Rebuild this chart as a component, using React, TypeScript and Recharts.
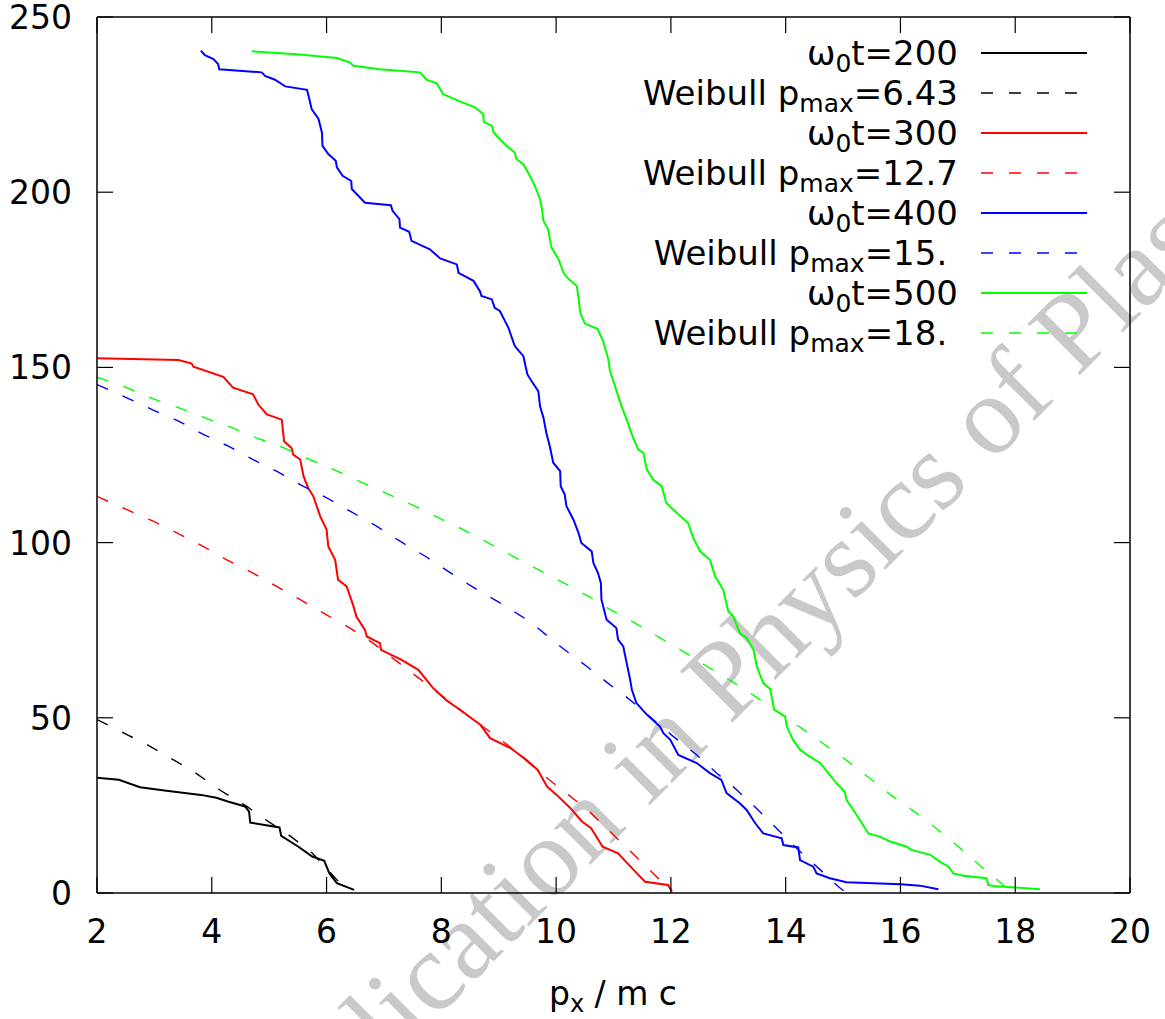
import React from 'react';
import { LineChart, Line, XAxis, YAxis } from 'recharts';

document.body.style.margin = '0';

// cumulative counts: [p_x, N]
const t200: [number, number][] = [
  [2.0, 32.9], [2.38, 32.3], [2.75, 30.2], [3.21, 29.2], [3.81, 28.0], [4.08, 27.2], [4.28, 26.1],
  [4.58, 24.7], [4.65, 23.2], [4.67, 20.1], [5.18, 18.7], [5.21, 16.3], [5.51, 13.2], [5.75, 10.4],
  [5.96, 9.2], [6.05, 5.6], [6.18, 2.8], [6.48, 0.9],
];
const fit643: [number, number][] = [
  [2.0, 49.5], [2.41, 46.1], [2.88, 42.3], [3.28, 38.5], [3.68, 34.7], [4.14, 29.4], [4.61, 24.7],
  [4.94, 20.9], [5.34, 16.6], [5.75, 11.4], [6.15, 4.3], [6.35, 0.8],
];
const t300: [number, number][] = [
  [2.0, 152.6], [3.42, 152.1], [3.65, 151.1], [3.68, 150.2], [4.2, 147.3], [4.37, 144.2], [4.72, 142.3],
  [4.81, 139.4], [4.96, 136.6], [5.22, 135.1], [5.26, 128.9], [5.39, 127.0], [5.42, 125.1], [5.54, 123.7],
  [5.6, 118.9], [5.68, 115.6], [5.77, 113.2], [5.89, 107.5], [6.0, 103.7], [6.03, 98.9], [6.15, 95.1],
  [6.2, 89.4], [6.35, 87.5], [6.47, 81.8], [6.52, 78.9], [6.67, 75.1], [6.7, 73.2], [6.93, 71.3],
  [6.95, 69.4], [7.3, 66.6], [7.6, 63.7], [7.85, 58.6], [8.08, 55.1], [8.28, 52.8], [8.68, 48.0],
  [8.85, 44.2], [9.21, 41.3], [9.48, 38.0], [9.68, 35.1], [9.84, 30.4], [10.01, 28.0], [10.25, 24.2],
  [10.45, 20.4], [10.61, 18.5], [10.81, 13.2], [11.08, 11.3], [11.35, 6.6], [11.55, 3.2], [11.95, 2.3],
  [12.02, 0.4],
];
const fit127: [number, number][] = [
  [2.0, 113.2], [2.52, 109.4], [2.98, 106.1], [3.39, 102.8], [3.85, 98.9], [4.26, 95.1], [4.72, 91.3],
  [5.13, 87.5], [5.54, 83.7], [6.0, 79.4], [6.41, 75.6], [6.81, 71.3], [8.41, 51.3], [9.15, 42.3],
  [9.88, 32.3], [10.55, 23.7], [11.15, 14.2], [11.81, 3.7], [12.0, 0.6],
];
const t400: [number, number][] = [
  [3.81, 240.4], [3.88, 239.1], [4.03, 238.0], [4.11, 236.6], [4.13, 235.1], [4.87, 234.2], [4.93, 233.2],
  [5.1, 232.1], [5.28, 230.2], [5.66, 229.2], [5.7, 226.6], [5.74, 223.7], [5.86, 220.9], [5.92, 217.0],
  [5.93, 213.2], [6.03, 210.9], [6.16, 209.0], [6.18, 207.1], [6.28, 204.7], [6.43, 203.2], [6.44, 200.9],
  [6.67, 197.0], [7.12, 196.3], [7.15, 194.7], [7.27, 192.3], [7.28, 189.9], [7.44, 188.7], [7.48, 186.1],
  [7.8, 183.7], [7.98, 181.1], [8.27, 179.4], [8.3, 177.0], [8.56, 174.7], [8.67, 171.8], [8.7, 170.4],
  [8.88, 169.4], [8.93, 167.0], [9.02, 166.1], [9.11, 163.2], [9.17, 161.3], [9.22, 158.9], [9.28, 156.1],
  [9.43, 153.2], [9.46, 150.9], [9.5, 148.0], [9.57, 146.1], [9.69, 143.2], [9.72, 138.9], [9.78, 135.6],
  [9.83, 131.3], [9.89, 127.5], [9.95, 122.8], [10.07, 120.4], [10.08, 116.1], [10.15, 113.7], [10.18, 110.4],
  [10.3, 106.6], [10.39, 102.8], [10.44, 99.9], [10.62, 97.5], [10.65, 94.2], [10.73, 91.3], [10.78, 88.5],
  [10.79, 83.7], [10.88, 78.0], [11.05, 75.6], [11.08, 72.3], [11.17, 70.4], [11.23, 65.6], [11.29, 60.9],
  [11.32, 58.0], [11.4, 54.2], [11.58, 50.9], [11.81, 47.5], [11.87, 45.6], [11.99, 43.7], [12.13, 39.4],
  [12.45, 37.1], [12.68, 34.2], [12.88, 32.3], [12.97, 28.5], [13.2, 25.6], [13.32, 23.7], [13.47, 19.9],
  [13.61, 17.0], [13.93, 15.6], [13.96, 13.7], [14.22, 13.0], [14.25, 9.4], [14.48, 7.5], [14.54, 5.6],
  [14.77, 4.2], [15.06, 3.1], [16.0, 2.5], [16.34, 2.1], [16.66, 1.1],
];
const fit15: [number, number][] = [
  [2.0, 145.1], [2.52, 141.3], [2.98, 137.8], [3.42, 134.7], [3.85, 130.9], [4.29, 127.5], [4.72, 123.7],
  [5.16, 120.1], [5.59, 116.1], [6.0, 112.8], [6.44, 108.7], [6.87, 104.7], [7.28, 100.4], [7.72, 96.1],
  [8.12, 91.8], [8.53, 87.5], [9.0, 83.0], [9.54, 77.5], [10.07, 70.4], [10.53, 64.7], [10.94, 59.4],
  [11.29, 55.1], [12.04, 44.7], [12.45, 39.4], [12.8, 34.2], [13.15, 29.4], [13.52, 23.7], [13.87, 18.0],
  [14.22, 12.3], [14.57, 7.1], [14.92, 1.8], [15.03, 0.4],
];
const t500: [number, number][] = [
  [4.7, 240.2], [5.48, 239.4], [6.18, 238.3], [6.41, 237.0], [6.47, 236.1], [6.93, 235.1], [7.63, 234.2],
  [7.74, 232.1], [7.92, 231.1], [8.03, 228.0], [8.32, 225.9], [8.59, 224.2], [8.73, 222.3], [8.74, 220.1],
  [8.88, 218.9], [8.91, 217.1], [9.02, 215.1], [9.14, 213.2], [9.28, 211.3], [9.31, 209.4], [9.43, 208.0],
  [9.54, 204.7], [9.63, 201.8], [9.72, 198.0], [9.75, 195.5], [9.78, 191.8], [9.86, 189.4], [9.92, 184.2],
  [10.04, 180.9], [10.13, 177.0], [10.2, 175.5], [10.36, 173.2], [10.39, 169.9], [10.42, 165.6], [10.5, 162.5],
  [10.72, 161.0], [10.82, 157.5], [10.91, 152.3], [10.94, 148.9], [11.02, 145.0], [11.14, 138.9], [11.23, 135.1],
  [11.34, 130.0], [11.43, 126.6], [11.52, 125.6], [11.58, 120.9], [11.69, 118.0], [11.84, 116.1], [11.92, 111.3],
  [12.1, 108.5], [12.3, 105.6], [12.39, 101.3], [12.51, 97.5], [12.68, 95.1], [12.77, 90.4], [12.91, 86.6],
  [13.0, 80.4], [13.09, 78.9], [13.2, 74.2], [13.32, 72.8], [13.44, 69.4], [13.5, 64.5], [13.61, 59.9],
  [13.73, 58.2], [13.8, 52.3], [13.99, 50.4], [14.02, 47.5], [14.13, 43.7], [14.25, 40.9], [14.42, 38.9],
  [14.6, 37.1], [14.74, 34.2], [14.89, 31.3], [15.03, 28.9], [15.06, 26.6], [15.18, 23.7], [15.29, 20.9],
  [15.44, 17.0], [15.64, 16.1], [15.82, 14.7], [16.11, 13.2], [16.19, 12.3], [16.52, 10.9], [16.69, 8.9],
  [16.84, 7.5], [16.92, 5.6], [17.1, 4.9], [17.5, 4.2], [17.53, 2.3], [17.62, 2.0], [18.43, 1.1],
];
const fit18: [number, number][] = [
  [2.0, 147.2], [2.52, 144.2], [2.98, 141.0], [3.42, 138.5], [3.88, 135.6], [4.35, 132.8], [4.78, 129.9],
  [5.25, 127.1], [5.71, 123.7], [6.15, 120.7], [6.61, 117.2], [7.05, 114.0], [7.51, 110.6], [7.95, 107.1],
  [8.38, 103.7], [8.82, 99.9], [9.25, 96.1], [9.69, 92.3], [10.13, 88.5], [10.56, 84.7], [10.94, 80.9],
  [11.37, 77.1], [11.81, 72.8], [12.22, 68.9], [12.65, 64.5], [13.06, 60.4], [13.47, 56.1], [14.28, 47.0],
  [14.68, 42.3], [15.09, 37.5], [15.5, 32.3], [15.87, 27.5], [16.28, 22.8], [16.66, 18.0], [17.04, 12.8],
  [17.41, 7.5], [17.79, 2.3], [17.88, 1.2],
];

const xTicks = [2, 4, 6, 8, 10, 12, 14, 16, 18, 20];
const yTicks = [0, 50, 100, 150, 200, 250];

// key order as in the figure: label = lead + subscript + tail
const series = [
  { key: 't200', pts: t200, color: '#000000', dashed: false, lead: 'ω', sub: '0', tail: 't=200' },
  { key: 'fit643', pts: fit643, color: '#000000', dashed: true, lead: 'Weibull p', sub: 'max', tail: '=6.43' },
  { key: 't300', pts: t300, color: '#ff0000', dashed: false, lead: 'ω', sub: '0', tail: 't=300' },
  { key: 'fit127', pts: fit127, color: '#ff0000', dashed: true, lead: 'Weibull p', sub: 'max', tail: '=12.7' },
  { key: 't400', pts: t400, color: '#0000ff', dashed: false, lead: 'ω', sub: '0', tail: 't=400' },
  { key: 'fit15', pts: fit15, color: '#0000ff', dashed: true, lead: 'Weibull p', sub: 'max', tail: '=15.\u00a0' },
  { key: 't500', pts: t500, color: '#00ff00', dashed: false, lead: 'ω', sub: '0', tail: 't=500' },
  { key: 'fit18', pts: fit18, color: '#00ff00', dashed: true, lead: 'Weibull p', sub: 'max', tail: '=18.\u00a0' },
];

const FONT = '"DejaVu Sans", sans-serif';
const DASH = '12 16';
const TICK = 16;

const BottomTick = ({ x, y, payload }: any) => (
  <g>
    <line x1={x} x2={x} y1={y} y2={y - TICK} stroke="#000" strokeWidth={1.2} />
    <text x={x} y={y + 50} textAnchor="middle" fontSize={33} fontFamily={FONT} fill="#000">
      {payload.value}
    </text>
  </g>
);
const TopTick = ({ x, y }: any) => (
  <line x1={x} x2={x} y1={y} y2={y + TICK} stroke="#000" strokeWidth={1.2} />
);
const LeftTick = ({ x, y, payload }: any) => (
  <g>
    <line x1={x} x2={x + TICK} y1={y} y2={y} stroke="#000" strokeWidth={1.2} />
    <text x={x - 25} y={y + 12} textAnchor="end" fontSize={33} fontFamily={FONT} fill="#000">
      {payload.value}
    </text>
  </g>
);
const RightTick = ({ x, y }: any) => (
  <line x1={x} x2={x - TICK} y1={y} y2={y} stroke="#000" strokeWidth={1.2} />
);

export default function App() {
  return (
    <div style={{ position: 'relative', width: 1165, height: 1019, background: '#fff', overflow: 'hidden' }}>
      {/* watermark */}
      <svg width={1165} height={1019} style={{ position: 'absolute', left: 0, top: 0 }}>
        <g transform="translate(648 807) rotate(-45)" fontFamily='"Liberation Serif", serif' fontSize={112} fill="#c9c9c9">
          <text x={-28} y={0} textAnchor="end">Accepted for publication</text>
          <text x={0} y={0}>in Physics of Plasmas</text>
        </g>
      </svg>

      <div style={{ position: 'absolute', left: 0, top: 0 }}>
        <LineChart width={1165} height={1019} margin={{ top: 16, right: 34, bottom: 0, left: 0 }}>
          <XAxis
            xAxisId="b"
            type="number"
            dataKey="x"
            domain={[2, 20]}
            ticks={xTicks}
            allowDataOverflow
            height={126}
            tickSize={0}
            tickMargin={0}
            tickLine={false}
            axisLine={{ stroke: '#000', strokeWidth: 1.5 }}
            tick={<BottomTick />}
            interval={0}
          />
          <XAxis
            xAxisId="t"
            orientation="top"
            type="number"
            dataKey="x"
            domain={[2, 20]}
            ticks={xTicks}
            allowDataOverflow
            height={1}
            tickSize={0}
            tickMargin={0}
            tickLine={false}
            axisLine={{ stroke: '#000', strokeWidth: 1.5 }}
            tick={<TopTick />}
            interval={0}
          />
          <YAxis
            yAxisId="l"
            type="number"
            domain={[0, 250]}
            ticks={yTicks}
            allowDataOverflow
            width={97}
            tickSize={0}
            tickMargin={0}
            tickLine={false}
            axisLine={{ stroke: '#000', strokeWidth: 1.5 }}
            tick={<LeftTick />}
            interval={0}
          />
          <YAxis
            yAxisId="r"
            orientation="right"
            type="number"
            domain={[0, 250]}
            ticks={yTicks}
            allowDataOverflow
            width={1}
            tickSize={0}
            tickMargin={0}
            tickLine={false}
            axisLine={{ stroke: '#000', strokeWidth: 1.5 }}
            tick={<RightTick />}
            interval={0}
          />
          {series.map((s) => (
            <Line
              key={s.key}
              xAxisId="b"
              yAxisId="l"
              data={s.pts.map(([x, y]) => ({ x, y }))}
              dataKey="y"
              type="linear"
              stroke={s.color}
              strokeWidth={s.dashed ? 1.4 : 2}
              strokeDasharray={s.dashed ? DASH : undefined}
              dot={false}
              activeDot={false}
              isAnimationActive={false}
            />
          ))}
        </LineChart>
      </div>

      {/* key, gnuplot style */}
      <svg width={1165} height={1019} style={{ position: 'absolute', left: 0, top: 0, pointerEvents: 'none' }}>
        <g fontFamily={FONT} fontSize={34} fill="#000">
          {series.map((s, i) => {
            const cy = 53 + i * 40;
            return (
              <g key={s.key}>
                <text x={958} y={cy + 12} textAnchor="end" style={{ whiteSpace: 'pre' }}>
                  {s.lead}
                  <tspan fontSize={25} dy={7}>{s.sub}</tspan>
                  <tspan dy={-7}>{s.tail}</tspan>
                </text>
                <line
                  x1={981}
                  x2={1087}
                  y1={cy}
                  y2={cy}
                  stroke={s.color}
                  strokeWidth={s.dashed ? 1.4 : 2}
                  strokeDasharray={s.dashed ? DASH : undefined}
                />
              </g>
            );
          })}
        </g>
        <text x={613} y={1005} textAnchor="middle" fontFamily={FONT} fontSize={33} fill="#000">
          p<tspan fontSize={24} dy={7}>x</tspan>
          <tspan dy={-7}> / m c</tspan>
        </text>
      </svg>
    </div>
  );
}
